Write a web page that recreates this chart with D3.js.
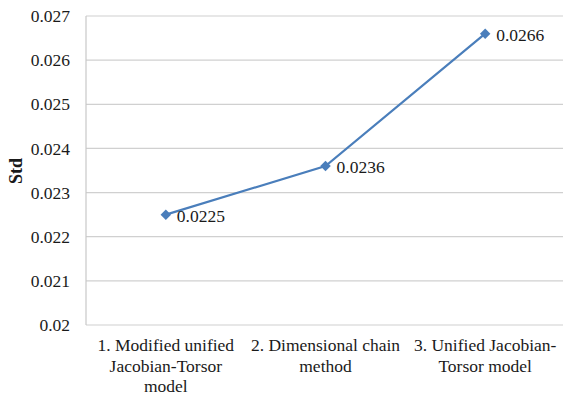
<!DOCTYPE html>
<html>
<head>
<meta charset="utf-8">
<script src="https://cdn.jsdelivr.net/npm/d3@7/dist/d3.min.js"></script>
<style>
  html, body { margin: 0; padding: 0; background: #ffffff; }
  svg { display: block; }
  svg text { font-family: "Liberation Serif", "Times New Roman", Tinos, "DejaVu Serif", serif !important; fill: #1a1a1a; }
</style>
</head>
<body>
<svg id="chart" width="563" height="397"></svg>
<script>
// Standard deviation for each assembly-tolerance model
const categories = [
  ["1. Modified unified", "Jacobian-Torsor", "model"],
  ["2. Dimensional chain", "method"],
  ["3. Unified Jacobian-", "Torsor model"]
];
const stdValues = [0.0225, 0.0236, 0.0266];
const valueLabels = ["0.0225", "0.0236", "0.0266"];
const yTicks = [0.02, 0.021, 0.022, 0.023, 0.024, 0.025, 0.026, 0.027];
const yTickLabels = ["0.02", "0.021", "0.022", "0.023", "0.024", "0.025", "0.026", "0.027"];

const svg = d3.select("#chart");
const margin = { left: 86, right: 0, top: 16, bottom: 72 };
const width = 563 - margin.left - margin.right;
const height = 397 - margin.top - margin.bottom;

const g = svg.append("g").attr("transform", `translate(${margin.left},${margin.top})`);

const x = d3.scaleBand().domain(d3.range(categories.length)).range([0, width + 2]);
const y = d3.scaleLinear().domain([0.02, 0.027]).range([height, 0]);

// horizontal gridlines
g.append("g")
  .selectAll("line")
  .data(yTicks)
  .join("line")
  .attr("x1", 0).attr("x2", width)
  .attr("y1", d => y(d)).attr("y2", d => y(d))
  .attr("stroke", "#d0d0d0").attr("stroke-width", 1.2);

// y axis line
g.append("line")
  .attr("x1", 0).attr("x2", 0).attr("y1", 0).attr("y2", height)
  .attr("stroke", "#c8c8c8").attr("stroke-width", 1.2);

// y tick labels
const yAxis = d3.axisLeft(y).tickValues(yTicks)
  .tickFormat((d, i) => yTickLabels[i]).tickSize(0).tickPadding(16);
const yg = g.append("g").call(yAxis).attr("font-family", null).attr("font-size", null);
yg.select(".domain").remove();
yg.selectAll("text")
  .style("font-size", "17.5px").attr("fill", "#1a1a1a");

// y axis title
svg.append("text")
  .attr("transform", "translate(22,171) rotate(-90)")
  .attr("text-anchor", "middle")
  .style("font-size", "18px").style("font-weight", "bold")
  .text("Std");

// category labels
const catG = g.append("g").attr("transform", `translate(0,${height})`);
categories.forEach((lines, i) => {
  const t = catG.append("text")
    .attr("x", x(i) + x.bandwidth() / 2)
    .attr("y", 26)
    .attr("text-anchor", "middle")
    .style("font-size", "17.5px");
  lines.forEach((ln, j) => {
    t.append("tspan")
      .attr("x", x(i) + x.bandwidth() / 2)
      .attr("dy", j === 0 ? 0 : 20.5)
      .text(ln);
  });
});

// data line
const cx = i => x(i) + x.bandwidth() / 2;
const line = d3.line().x((d, i) => cx(i)).y(d => y(d));
g.append("path")
  .datum(stdValues)
  .attr("d", line)
  .attr("fill", "none")
  .attr("stroke", "#4a7ebb")
  .attr("stroke-width", 2.2);

// diamond markers
const diamond = d3.symbol().type(d3.symbolDiamond2).size(70);
g.selectAll(".marker")
  .data(stdValues)
  .join("path")
  .attr("class", "marker")
  .attr("d", diamond)
  .attr("transform", (d, i) => `translate(${cx(i)},${y(d)})`)
  .attr("fill", "#4a7ebb");

// value labels
g.selectAll(".vlabel")
  .data(stdValues)
  .join("text")
  .attr("class", "vlabel")
  .attr("x", (d, i) => cx(i) + 11)
  .attr("y", d => y(d) + 7)
  .style("font-size", "17.5px")
  .text((d, i) => valueLabels[i]);
</script>
</body>
</html>
